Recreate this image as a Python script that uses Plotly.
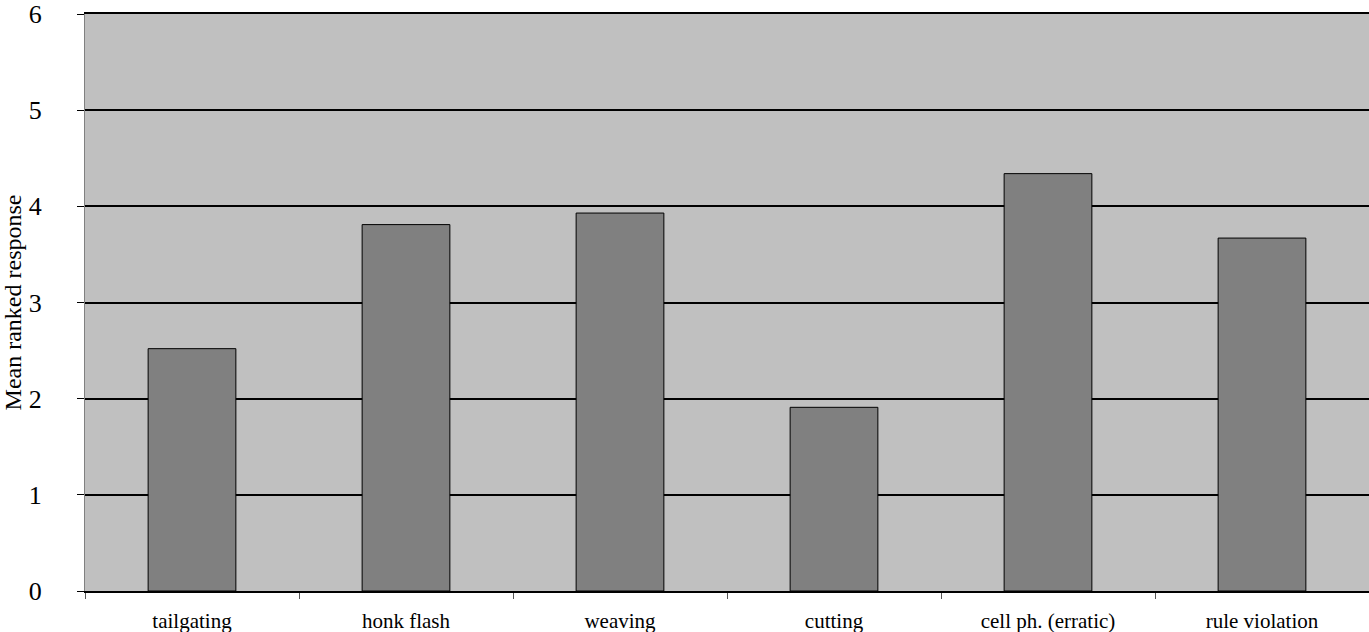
import plotly.graph_objects as go

categories = ["tailgating", "honk flash", "weaving", "cutting", "cell ph. (erratic)", "rule violation"]
values = [2.52, 3.81, 3.93, 1.91, 4.34, 3.67]
y_ticks = [0, 1, 2, 3, 4, 5, 6]

fig = go.Figure()
fig.add_trace(go.Bar(
    x=categories, y=values,
    marker=dict(color="#808080", line=dict(color="black", width=1)),
))

fig.update_layout(
    width=1369, height=632,
    margin=dict(l=85, r=0, t=14, b=41),
    paper_bgcolor="white", plot_bgcolor="#c0c0c0",
    bargap=0.59,
    showlegend=False,
    font=dict(family="Liberation Serif, Times New Roman, serif", color="black"),
)
fig.update_xaxes(
    type="category",
    automargin=False,
    tickson="boundaries",
    ticks="outside", ticklen=6, tickcolor="#555555", tickwidth=1,
    showline=True, linecolor="black", linewidth=2, mirror=True,
    showgrid=False,
    tickfont=dict(size=21),
    ticklabelstandoff=10,
)
fig.update_yaxes(
    automargin=False,
    range=[0, 6],
    tickvals=y_ticks,
    ticks="outside", ticklen=7, tickcolor="black", tickwidth=1,
    showline=True, linecolor="#808080", linewidth=1,
    showgrid=True, gridcolor="black", gridwidth=1.5,
    zeroline=False,
    tickfont=dict(size=26),
    ticklabelstandoff=30,
    title=dict(text="Mean ranked response", font=dict(size=24), standoff=4),
)
fig.write_html(
    "out.html",
    config={"displayModeBar": False},
    post_script="document.body.style.margin='0';document.body.style.overflow='hidden';",
)
